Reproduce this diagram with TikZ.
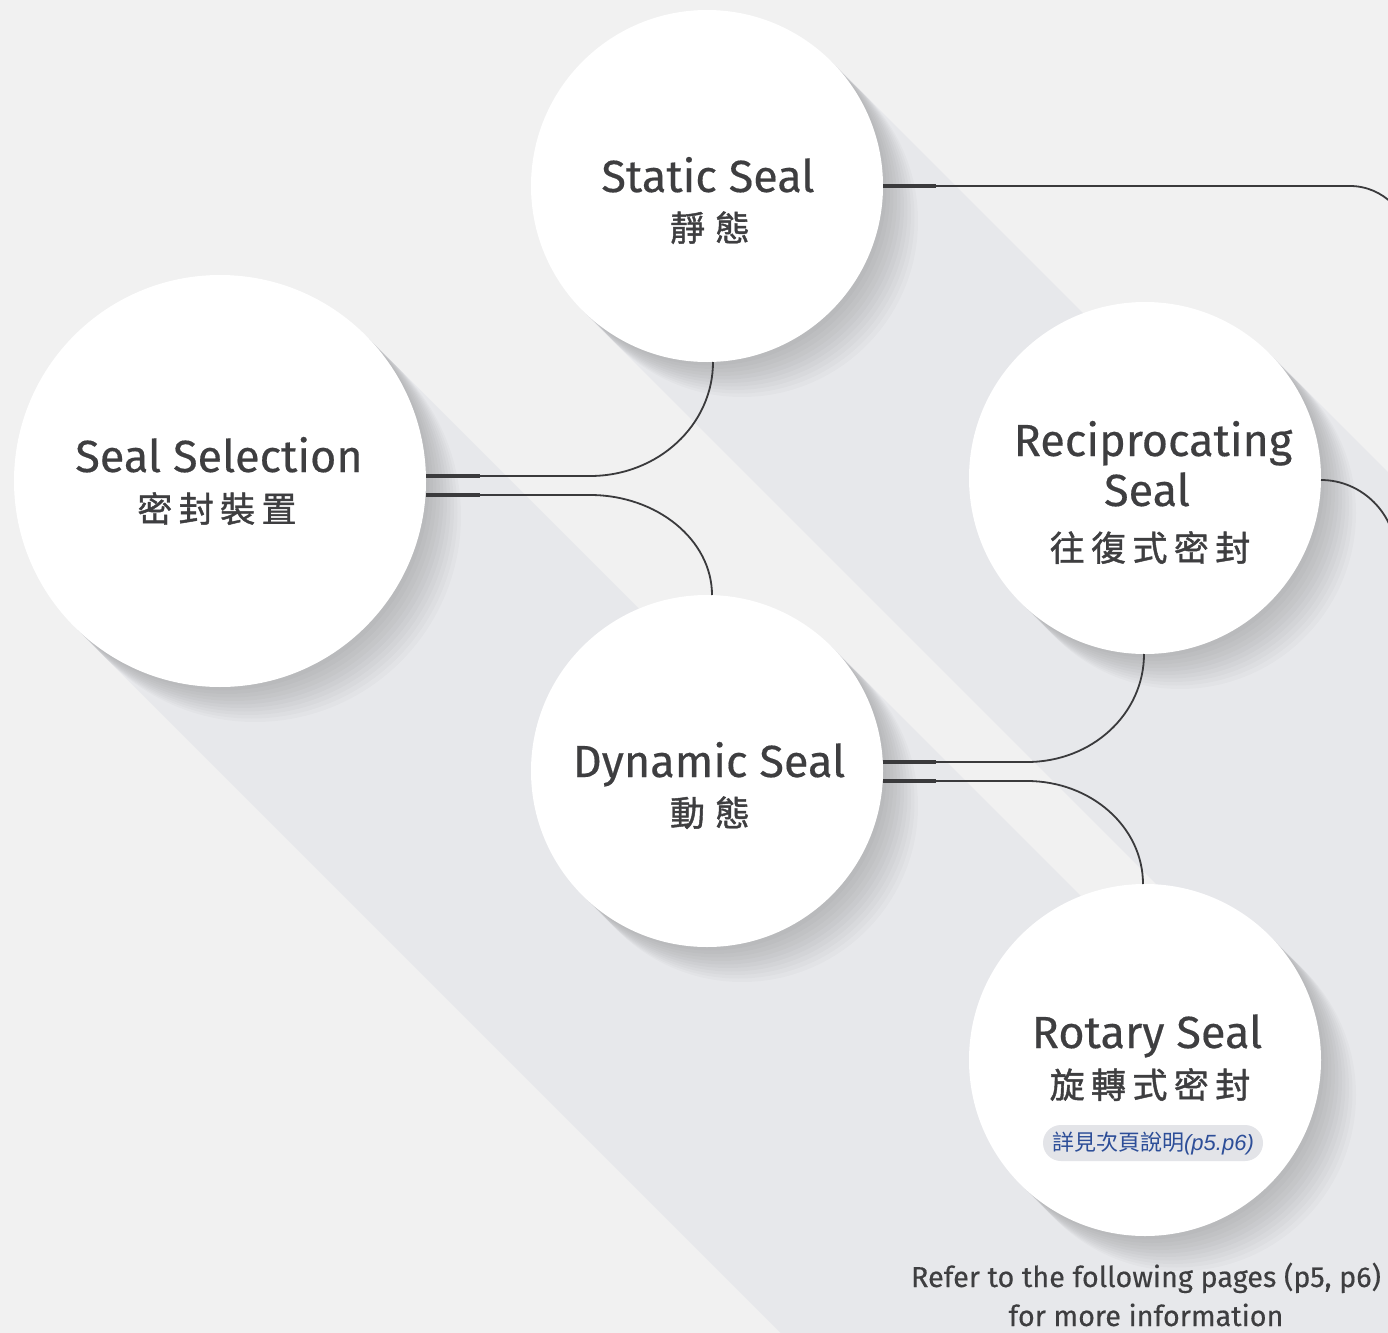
\documentclass[tikz,border=0pt]{standalone}
\usepackage{fontspec}
\setmainfont{Fira Sans}[FakeBold=0.35]
\newfontfamily\cjkfont{Noto Sans CJK TC}[FakeBold=1.2]
\newfontfamily\cjklight{Noto Sans CJK TC}
\newfontfamily\pillit{Liberation Sans}
\usetikzlibrary{calc}
\definecolor{bg}{RGB}{241,241,241}
\definecolor{band}{RGB}{198,204,216}
\definecolor{ink}{RGB}{62,62,64}
\definecolor{wire}{RGB}{58,58,60}
\definecolor{pillbg}{RGB}{227,228,232}
\definecolor{pilltxt}{RGB}{45,78,152}
\newcommand\cjkgap{\hspace{3.2pt}}
\begin{document}
\begin{tikzpicture}[x=0.5pt,y=-0.5pt,
  disc/.style={circle, fill=white, inner sep=0pt, outer sep=0pt, minimum size=#1},
  titletext/.style={font=\fontsize{22.5}{26}\selectfont, text=ink, anchor=base, inner sep=0pt},
  cjktext/.style={font=\cjkfont\fontsize{17.5}{20}\selectfont, text=ink, anchor=base, inner sep=0pt},
  notetext/.style={font=\fontsize{14.4}{17}\selectfont, text=ink, anchor=base, inner sep=0pt},
  pill/.style={fill=pillbg, rounded corners=9pt, minimum width=110pt, minimum height=18pt, inner sep=0pt, text=pilltxt},
  thickseg/.style={draw=wire, line width=1.6pt},
  wirel/.style={draw=wire, line width=0.9pt}]
\useasboundingbox (0,0) rectangle (1388,1333);
\clip (0,0) rectangle (1388,1333);
\fill[bg] (0,0) rectangle (1388,1333);
% long shadow bands (union, no overlap darkening)
\begin{scope}[transparency group, opacity=0.22]
\foreach \cx/\cy/\r in {220/481/206, 707/186/176, 707/771/176, 1145/478/176, 1145/1060/176}{
  \fill[band] ({\cx+0.7071*\r},{\cy-0.7071*\r}) -- ++(2000,2000)
     -- ++({-1.4142*\r},{1.4142*\r}) -- ({\cx-0.7071*\r},{\cy+0.7071*\r}) -- cycle;
}
\end{scope}
% soft drop shadows
\foreach \cx/\cy/\r in {220/481/206, 707/186/176, 707/771/176, 1145/478/176, 1145/1060/176}{
  \foreach \k in {1,...,10}{
    \fill[black, opacity=0.018] ({\cx+3.5*\k},{\cy+3.5*\k}) circle[radius={\r*0.5pt}];
  }
}
% circles
\node[disc=206pt] (sel) at (220,481) {};
\node[disc=176pt] (stat) at (707,186) {};
\node[disc=176pt] (dyn) at (707,771) {};
\node[disc=176pt] (rec) at (1145,478) {};
\node[disc=176pt] (rot) at (1145,1060) {};
% connectors
\draw[wirel] (stat.east) -- ++(467,0) .. controls +(33,0) and +(0,-33) .. ++(60,60);
\draw[thickseg] (stat.east) -- ++(53,0);
\draw[wirel] ($(sel.east)+(0,-5)$) -- ++(164,0) .. controls +(68,0) and +(0,63) .. ($(stat.south)+(6,0)$);
\draw[thickseg] ($(sel.east)+(0,-5)$) -- ++(54,0);
\draw[wirel] ($(sel.east)+(0,14)$) -- ++(164,0) .. controls +(67,0) and +(0,-55) .. ($(dyn.north)+(5,0)$);
\draw[thickseg] ($(sel.east)+(0,14)$) -- ++(54,0);
\draw[wirel] ($(dyn.east)+(0,-9)$) -- ++(144,0) .. controls +(65,0) and +(0,60) .. ($(rec.south)+(-1,0)$);
\draw[thickseg] ($(dyn.east)+(0,-9)$) -- ++(53,0);
\draw[wirel] ($(dyn.east)+(0,10)$) -- ++(144,0) .. controls +(64,0) and +(0,-57) .. ($(rot.north)+(-2,0)$);
\draw[thickseg] ($(dyn.east)+(0,10)$) -- ++(53,0);
\draw[wirel] ($(rec.east)+(0,2)$) .. controls +(41,0) and +(0,-41) .. ++(75,75);
% texts
\node[titletext] (selT) at (219,472) {Seal Selection};
\node[cjktext] (selC) at (217,522) {密\cjkgap 封\cjkgap 裝\cjkgap 置};
\node[titletext] (statT) at (708,192) {Static Seal};
\node[cjktext] (statC) at (710,241) {靜\hspace{5pt}態};
\node[titletext] (recT) at (1153,456) {Reciprocating};
\node[titletext] (recS) at (1147,506) {Seal};
\node[cjktext] (recC) at (1150,561) {往\cjkgap 復\cjkgap 式\cjkgap 密\cjkgap 封};
\node[titletext] (dynT) at (709,777) {Dynamic Seal};
\node[cjktext] (dynC) at (710,826) {動\hspace{5pt}態};
\node[titletext] (rotT) at (1147,1048) {Rotary Seal};
\node[cjktext] (rotC) at (1150,1098) {旋\cjkgap 轉\cjkgap 式\cjkgap 密\cjkgap 封};
\node[pill] (rotP) at (1153,1143) {\cjklight\fontsize{11}{13}\selectfont 詳見次頁說明{\pillit\itshape (p5.p6)}};
\node[notetext] (n1) at (1146,1287) {Refer to the following pages (p5, p6)};
\node[notetext] (n2) at (1146,1326) {for more information};
\end{tikzpicture}
\end{document}
